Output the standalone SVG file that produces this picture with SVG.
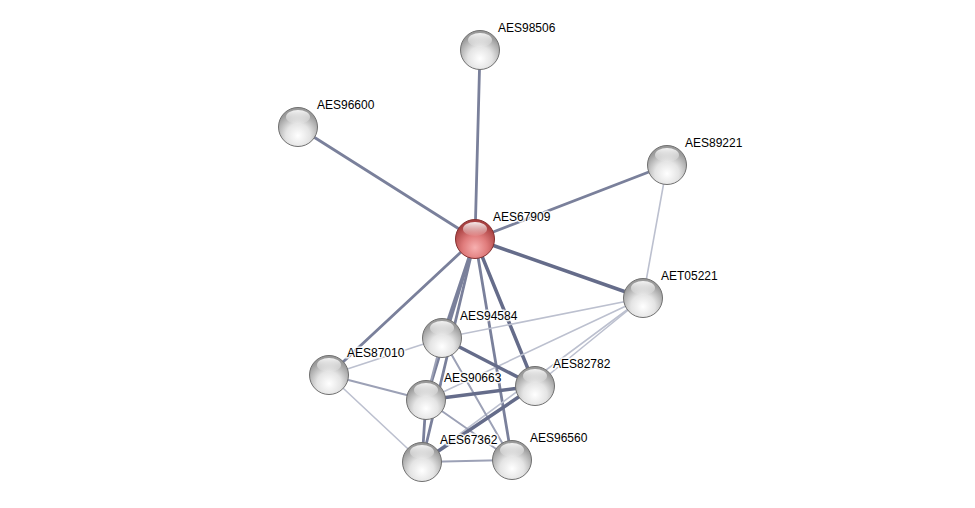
<svg xmlns="http://www.w3.org/2000/svg" width="975" height="508" viewBox="0 0 975 508">
<defs>
<radialGradient id="gs" cx="0.5" cy="0.72" r="0.62">
<stop offset="0" stop-color="#ffffff"/>
<stop offset="0.5" stop-color="#e4e4e4"/>
<stop offset="1" stop-color="#9a9a9a"/>
</radialGradient>
<radialGradient id="rs" cx="0.5" cy="0.72" r="0.62">
<stop offset="0" stop-color="#f7b0b0"/>
<stop offset="0.5" stop-color="#e07c7c"/>
<stop offset="1" stop-color="#a84040"/>
</radialGradient>
<linearGradient id="sh" x1="0" y1="0" x2="0" y2="1">
<stop offset="0" stop-color="#ffffff" stop-opacity="0.9"/>
<stop offset="1" stop-color="#ffffff" stop-opacity="0.05"/>
</linearGradient>
</defs>
<style>
.e{fill:none;stroke-linecap:round}
.d{stroke:#656c8a;stroke-width:3.5}
.m{stroke:#7a809b;stroke-width:2.8}
.l{stroke:#9ca1b6;stroke-width:2}
.x{stroke:#bcc0cf;stroke-width:1.6}
.n{fill:url(#gs);stroke:#707070;stroke-width:1}
.r{fill:url(#rs);stroke:#843030;stroke-width:1}
.s{fill:url(#sh)}
text{font-family:"Liberation Sans",Arial,sans-serif;font-size:12px;fill:#000;paint-order:stroke;stroke:#ffffff;stroke-width:3px;stroke-opacity:0.85}
</style>
<rect width="975" height="508" fill="#ffffff"/>
<g id="edges">
<line class="e m" x1="475" y1="239" x2="480" y2="50"/>
<line class="e m" x1="475" y1="239" x2="298" y2="127"/>
<line class="e m" x1="475" y1="239" x2="667" y2="165"/>
<line class="e d" x1="475" y1="239" x2="643" y2="298"/>
<line class="e m" x1="475" y1="239" x2="329" y2="375"/>
<line class="e m" x1="475" y1="239" x2="442" y2="338"/>
<line class="e m" x1="475" y1="239" x2="426" y2="400"/>
<line class="e m" x1="475" y1="239" x2="422" y2="462"/>
<line class="e m" x1="475" y1="239" x2="512" y2="460"/>
<line class="e d" x1="475" y1="239" x2="535" y2="386"/>
<line class="e x" x1="667" y1="165" x2="643" y2="298"/>
<line class="e x" x1="643" y1="298" x2="442" y2="338"/>
<line class="e x" x1="643" y1="298" x2="426" y2="400"/>
<line class="e x" x1="643" y1="298" x2="535" y2="386"/>
<line class="e x" x1="643" y1="298" x2="422" y2="462"/>
<line class="e x" x1="442" y1="338" x2="329" y2="375"/>
<line class="e d" x1="442" y1="338" x2="535" y2="386"/>
<line class="e l" x1="442" y1="338" x2="426" y2="400"/>
<line class="e l" x1="442" y1="338" x2="512" y2="460"/>
<line class="e l" x1="329" y1="375" x2="426" y2="400"/>
<line class="e x" x1="329" y1="375" x2="422" y2="462"/>
<line class="e d" x1="426" y1="400" x2="535" y2="386"/>
<line class="e l" x1="426" y1="400" x2="512" y2="460"/>
<line class="e m" x1="426" y1="400" x2="422" y2="462"/>
<line class="e d" x1="422" y1="462" x2="535" y2="386"/>
<line class="e l" x1="422" y1="462" x2="512" y2="460"/>
</g>
<g id="AES98506"><circle class="n" cx="480" cy="50" r="19.5"/><ellipse class="s" cx="480" cy="40" rx="12" ry="7"/><text x="498" y="32">AES98506</text></g>
<g id="AES96600"><circle class="n" cx="298" cy="127" r="19.5"/><ellipse class="s" cx="298" cy="117" rx="12" ry="7"/><text x="317" y="109">AES96600</text></g>
<g id="AES89221"><circle class="n" cx="667" cy="165" r="19.5"/><ellipse class="s" cx="667" cy="155" rx="12" ry="7"/><text x="685" y="147">AES89221</text></g>
<g id="AES67909"><circle class="r" cx="475" cy="239" r="19.5"/><ellipse class="s" cx="475" cy="229" rx="12" ry="7"/><text x="493" y="221">AES67909</text></g>
<g id="AET05221"><circle class="n" cx="643" cy="298" r="19.5"/><ellipse class="s" cx="643" cy="288" rx="12" ry="7"/><text x="661" y="280">AET05221</text></g>
<g id="AES94584"><circle class="n" cx="442" cy="338" r="19.5"/><ellipse class="s" cx="442" cy="328" rx="12" ry="7"/><text x="460" y="320">AES94584</text></g>
<g id="AES87010"><circle class="n" cx="329" cy="375" r="19.5"/><ellipse class="s" cx="329" cy="365" rx="12" ry="7"/><text x="347" y="357">AES87010</text></g>
<g id="AES90663"><circle class="n" cx="426" cy="400" r="19.5"/><ellipse class="s" cx="426" cy="390" rx="12" ry="7"/><text x="444" y="382">AES90663</text></g>
<g id="AES82782"><circle class="n" cx="535" cy="386" r="19.5"/><ellipse class="s" cx="535" cy="376" rx="12" ry="7"/><text x="553" y="368">AES82782</text></g>
<g id="AES67362"><circle class="n" cx="422" cy="462" r="19.5"/><ellipse class="s" cx="422" cy="452" rx="12" ry="7"/><text x="440" y="444">AES67362</text></g>
<g id="AES96560"><circle class="n" cx="512" cy="460" r="19.5"/><ellipse class="s" cx="512" cy="450" rx="12" ry="7"/><text x="530" y="442">AES96560</text></g>
</svg>
